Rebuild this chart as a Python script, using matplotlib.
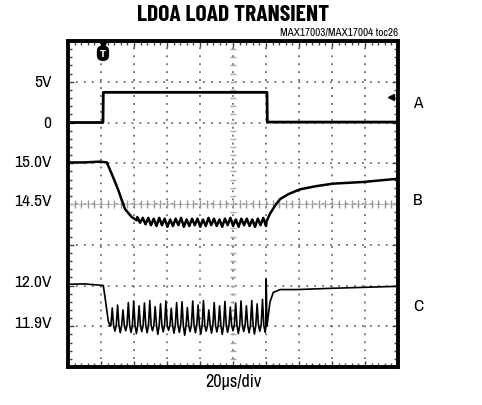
import numpy as np
import matplotlib
matplotlib.use("Agg")
from matplotlib import pyplot as plt
from matplotlib.ticker import MultipleLocator

plt.rcParams['font.family'] = ['Archivo Narrow', 'DejaVu Sans']

# scope traces, time in us (20us/div), voltages in volts
a_t = [0, 21.2, 21.4, 120.6, 120.8, 200]
a_v = [0.0, 0.0, 3.7, 3.7, 0.05, 0.05]

b_t_start = [0, 10, 19.4, 23.5, 26.7, 30.3, 34.5, 38.6, 41.6]
b_v_start = [15.01, 15.01, 15.02, 15.01, 14.86, 14.68, 14.44, 14.34, 14.30]
b_hi = [14.34, 14.33, 14.33, 14.32, 14.33, 14.32, 14.31, 14.32, 14.33, 14.31, 14.32, 14.32,
        14.31, 14.33, 14.32, 14.31, 14.32, 14.33, 14.31, 14.32, 14.32, 14.31, 14.32, 14.33]
b_lo = [14.27, 14.25, 14.24, 14.23, 14.24, 14.22, 14.23, 14.24, 14.22, 14.23, 14.24, 14.22,
        14.23, 14.24, 14.23, 14.22, 14.24, 14.23, 14.22, 14.24, 14.23, 14.22, 14.24, 14.23]
b_t_end = [120.4, 122.4, 125.5, 128.5, 133.5, 140.6, 150.7, 160.8, 178.8, 200]
b_v_end = [14.29, 14.38, 14.48, 14.56, 14.62, 14.68, 14.72, 14.75, 14.77, 14.81]

c_t_start = [0, 10, 21.4, 23.0, 24.4, 25.5]
c_v_start = [12.003, 12.004, 12.0, 11.955, 11.913, 11.90]
c_up = [11.945, 11.952, 11.940, 11.958, 11.962, 11.950, 11.957, 11.963, 11.948, 11.955,
        11.962, 11.944, 11.958, 11.960, 11.946, 11.962, 11.952, 11.963, 11.940, 11.958,
        11.950, 11.961, 11.947, 11.956, 11.962, 11.950, 11.963, 11.955, 11.966]
c_dn = [11.888, 11.884, 11.889, 11.885, 11.882, 11.887, 11.884, 11.889, 11.880, 11.886,
        11.890, 11.883, 11.885, 11.878, 11.887, 11.884, 11.881, 11.888, 11.883, 11.886,
        11.880, 11.885, 11.889, 11.882, 11.887, 11.884, 11.881, 11.888, 11.885]
c_base = 11.902
c_t_end = [119.9, 120.1, 120.6, 122.4, 124.4, 128.5, 138.6, 158.8, 200]
c_v_end = [11.90, 12.016, 11.901, 11.959, 11.983, 11.990, 11.990, 11.993, 11.998]

# left labels (text, division), right channel labels
left_labels = [("5V", 7.0), ("0", 6.0), ("15.0V", 5.05), ("14.5V", 4.08),
               ("12.0V", 2.1), ("11.9V", 1.1)]
right_labels = [("A", 6.5), ("B", 4.12), ("C", 1.5)]


def to_div(v, zero, per_div, ref):
    return ref + (np.asarray(v) - zero) / per_div


# build ripple sections
b_rt = np.linspace(42, 120, 2 * len(b_hi))
b_rv = np.ravel(np.column_stack([b_hi, b_lo]))
b_t = np.concatenate([b_t_start, b_rt, b_t_end])
b_v = np.concatenate([b_v_start, b_rv, b_v_end])

n = len(c_up)
c_rt = np.linspace(26, 119.5, 4 * n)
c_rv = np.ravel(np.column_stack([[c_base] * n, c_up, [c_base] * n, c_dn]))
c_t = np.concatenate([c_t_start, c_rt, c_t_end])
c_v = np.concatenate([c_v_start, c_rv, c_v_end])

fig = plt.figure(figsize=(4.82, 4.06), dpi=100)
ax = fig.add_axes([68 / 482, 38 / 406, 330 / 482, 326 / 406])
ax.set_xlim(0, 10)
ax.set_ylim(0, 8)

# graticule
ax.xaxis.set_major_locator(MultipleLocator(1))
ax.yaxis.set_major_locator(MultipleLocator(1))
ax.xaxis.set_minor_locator(MultipleLocator(0.2))
ax.yaxis.set_minor_locator(MultipleLocator(0.2))
ax.tick_params(which='both', direction='in', top=True, right=True,
               labelbottom=False, labelleft=False, color='#444')
ax.tick_params(which='major', length=4, width=1)
ax.tick_params(which='minor', length=3, width=1)
ax.grid(True, which='major', linestyle=(0, (1.2, 4)), color='#555', lw=1.1)
for s in ax.spines.values():
    s.set_linewidth(2.8)

ticks = np.arange(0.2, 10, 0.2)
ax.axhline(4, color='#bbb', lw=0.8)
ax.plot(ticks, [4] * len(ticks), '|', ms=5.5, mew=1.0, color='#999')
ticks_y = np.arange(0.2, 8, 0.2)
ax.plot([5] * len(ticks_y), ticks_y, '_', ms=5, mew=1.0, color='#aaa')

# traces
ax.plot(np.asarray(a_t) / 20, to_div(a_v, 0, 5, 6), color='black', lw=2.0)
ax.plot(b_t / 20, to_div(b_v, 15, 0.5, 5), color='black', lw=1.8)
ax.plot(c_t / 20, to_div(c_v, 12, 0.1, 2), color='black', lw=1.2)

# markers
ax.plot([1.06], [7.93], 'v', ms=6, color='black', clip_on=False)
ax.text(1.06, 7.7, 'T', ha='center', va='center', fontsize=6, color='white',
        fontweight='bold', family='DejaVu Sans',
        bbox=dict(boxstyle='round,pad=0.3,rounding_size=0.6', fc='black', ec='black'))
ax.plot([9.8], [6.63], '<', ms=5, color='black')

for txt, y in left_labels:
    ax.text(-0.5, y, txt, ha='right', va='center', fontsize=12.5)
for txt, y in right_labels:
    ax.text(10.45, y, txt, ha='left', va='center', fontsize=12.5)

fig.text(233 / 482, 1 - 15 / 406, "LDOA LOAD TRANSIENT", ha='center', va='center',
         fontsize=17, fontweight='bold', family=['Barlow Condensed', 'DejaVu Sans'])
fig.text(398 / 482, 1 - 33 / 406, "MAX17003/MAX17004 toc26", ha='right', va='center',
         fontsize=8)
fig.text(233 / 482, 1 - 382 / 406, "20\u00b5s/div", ha='center', va='center',
         fontsize=13)

fig.savefig("out.png", dpi=100)
